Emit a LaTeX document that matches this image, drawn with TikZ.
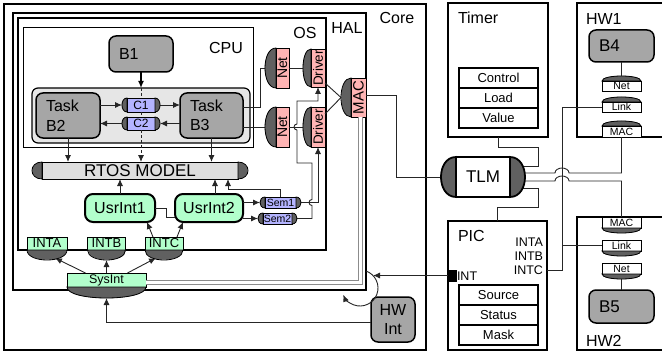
\documentclass[tikz,border=0pt]{standalone}
\usepackage{fontspec}
\setmainfont{Liberation Sans}
\usetikzlibrary{arrows.meta}
\definecolor{boxgray}{RGB}{166,166,166}
\definecolor{capgray}{RGB}{96,96,96}
\definecolor{grpgray}{RGB}{230,230,230}
\definecolor{rtosgray}{RGB}{222,222,222}
\definecolor{netpink}{RGB}{255,180,180}
\definecolor{chanblue}{RGB}{180,180,255}
\definecolor{intgreen}{RGB}{178,255,204}
\begin{document}
\begin{tikzpicture}[x=1pt,y=-1pt,
  every node/.style={inner sep=0pt,outer sep=0pt},
  lbl/.style={font=\fontsize{16}{19.5}\selectfont},
  frm/.style={draw,line width=#1},
  blk/.style={draw,fill=boxgray,rounded corners=7pt,line width=1.5pt,lbl,inner xsep=10pt,align=left,text width=#1},
  usr/.style={draw,fill=intgreen,rounded corners=8pt,line width=2pt,lbl},
  port/.style={draw,fill=#1,line width=0.8pt},
  capfill/.style={draw,fill=capgray,line width=0.8pt},
  reg/.style={draw,line width=1.1pt,minimum width=79pt,minimum height=20pt,font=\fontsize{13}{15}\selectfont},
  arr/.style={-{Latex[length=7pt,width=6pt]}},
  wire/.style={line width=0.9pt,black!85},
  bus/.style={draw=black!45,line width=0.8pt,double=white,double distance=3.2pt}]
\useasboundingbox (0,0) rectangle (662,353);

\node[frm=2pt,minimum width=422pt,minimum height=346pt] (core) at (215,177) {};
\node[frm=2.5pt,minimum width=353pt,minimum height=277pt] (hal) at (189.5,151.5) {};
\node[frm=2.5pt,minimum width=308pt,minimum height=232pt] (os) at (172,134) {};
\node[frm=1pt,minimum width=230pt,minimum height=119pt] (cpu) at (138,87.5) {};
\node[lbl] (corelbl) at (397,18) {Core};
\node[lbl] (hallbl) at (347,28) {HAL};
\node[lbl] (oslbl) at (305,33) {OS};
\node[lbl] (cpulbl) at (226,48) {CPU};

\node[draw,fill=grpgray,rounded corners=6pt,line width=1.2pt,minimum width=218pt,minimum height=55pt] (grp) at (141,115.5) {};
\node[blk=44pt,minimum height=36pt] (b1) at (141,54) {B1};
\node[blk=44pt,minimum height=45pt] (b2) at (68,115.5) {Task\\B2};
\node[blk=43pt,minimum height=45pt] (b3) at (211.5,115.5) {Task\\B3};
\node[port=chanblue,minimum width=28pt,minimum height=14pt,font=\fontsize{12}{14}\selectfont] (c1) at (141,105) {C1};
\node[port=chanblue,minimum width=28pt,minimum height=13pt,font=\fontsize{12}{14}\selectfont] (c2) at (141,123.5) {C2};
\node[draw,fill=rtosgray,line width=1pt,minimum width=196pt,minimum height=17pt,font=\fontsize{17}{20}\selectfont] (rtos) at (140,170.5) {RTOS MODEL};

\node[port=netpink,minimum width=13pt,minimum height=40pt,font=\fontsize{14}{16}\selectfont] (net1) at (282.5,68) {\rotatebox{90}{Net}};
\node[port=netpink,minimum width=13pt,minimum height=40pt,font=\fontsize{14}{16}\selectfont] (net2) at (282.5,127) {\rotatebox{90}{Net}};
\node[port=netpink,minimum width=14pt,minimum height=38pt,font=\fontsize{13.5}{16}\selectfont] (drv1) at (318,68) {\rotatebox{90}{Driver}};
\node[port=netpink,minimum width=14pt,minimum height=40pt,font=\fontsize{13.5}{16}\selectfont] (drv2) at (318,127) {\rotatebox{90}{Driver}};
\node[port=netpink,minimum width=15pt,minimum height=39pt,font=\fontsize{15}{17}\selectfont] (mac) at (358.5,97.5) {\rotatebox{90}{MAC}};

\node[usr,minimum width=70pt,minimum height=28pt] (usr1) at (120,208) {UsrInt1};
\node[usr,minimum width=68pt,minimum height=28pt] (usr2) at (209,208) {UsrInt2};
\node[port=chanblue,minimum width=31pt,minimum height=11pt,font=\fontsize{10.5}{12}\selectfont] (sem1) at (280.5,202.5) {Sem1};
\node[port=chanblue,minimum width=29pt,minimum height=11pt,font=\fontsize{10.5}{12}\selectfont] (sem2) at (277.5,218.5) {Sem2};
\node[port=intgreen,minimum width=40pt,minimum height=13pt,font=\fontsize{13}{15}\selectfont] (inta) at (47,243.5) {INTA};
\node[port=intgreen,minimum width=38pt,minimum height=13pt,font=\fontsize{13}{15}\selectfont] (intb) at (106.5,243.5) {INTB};
\node[port=intgreen,minimum width=38pt,minimum height=13pt,font=\fontsize{13}{15}\selectfont] (intc) at (164,243.5) {INTC};
\node[port=intgreen,minimum width=79pt,minimum height=14pt,font=\fontsize{12.5}{15}\selectfont] (sysint) at (106.5,280) {SysInt};
\node[draw,fill=boxgray,rounded corners=7pt,line width=1.5pt,lbl,align=center,minimum width=44pt,minimum height=45pt] (hwint) at (393,319.5) {HW\\Int};

\node[draw,fill=white,line width=1.8pt,minimum width=54pt,minimum height=40pt,font=\fontsize{17}{20}\selectfont] (tlm) at (483,177) {TLM};

\node[frm=2.5pt,minimum width=100pt,minimum height=134pt] (timer) at (498,70) {};
\node[lbl,anchor=west] (timerlbl) at (458,18) {Timer};
\node[reg] (ctrl) at (498.5,78) {Control};
\node[reg] (load) at (498.5,98) {Load};
\node[reg] (value) at (498.5,118) {Value};

\node[frm=2.5pt,minimum width=99pt,minimum height=129pt] (pic) at (497.5,285.5) {};
\node[lbl,anchor=west] (piclbl) at (458,236) {PIC};
\node[font=\fontsize{12.5}{14}\selectfont,anchor=east] (pinta) at (543,242) {INTA};
\node[font=\fontsize{12.5}{14}\selectfont,anchor=east] (pintb) at (543,256) {INTB};
\node[font=\fontsize{12.5}{14}\selectfont,anchor=east] (pintc) at (543,270) {INTC};
\node[draw,fill=black,minimum width=8pt,minimum height=11pt] (intport) at (452,275.5) {};
\node[font=\fontsize{12.5}{14}\selectfont,anchor=west] (intlbl) at (457,276) {INT};
\node[reg] (source) at (498.5,295) {Source};
\node[reg] (status) at (498.5,315) {Status};
\node[reg] (mask) at (498.5,335) {Mask};

\node[frm=2.5pt,minimum width=103pt,minimum height=134pt] (hw1) at (628.5,70) {};
\node[lbl,anchor=west] (hw1lbl) at (586,19) {HW1};
\node[blk=45pt,minimum height=32pt,font=\fontsize{17}{20}\selectfont] (b4) at (621.5,46) {B4};
\node[port=white,minimum width=39pt,minimum height=10pt,font=\fontsize{10.5}{12}\selectfont] (hw1net) at (621.5,86) {Net};
\node[port=white,minimum width=39pt,minimum height=10pt,font=\fontsize{10.5}{12}\selectfont] (hw1link) at (621.5,107) {Link};
\node[port=white,minimum width=39pt,minimum height=11pt,font=\fontsize{10.5}{12}\selectfont] (hw1mac) at (621.5,131.5) {MAC};

\node[frm=2.5pt,minimum width=103pt,minimum height=133pt] (hw2) at (628.5,283.5) {};
\node[lbl,anchor=west] (hw2lbl) at (586,341) {HW2};
\node[port=white,minimum width=39pt,minimum height=11pt,font=\fontsize{10.5}{12}\selectfont] (hw2mac) at (621.5,222.5) {MAC};
\node[port=white,minimum width=39pt,minimum height=11pt,font=\fontsize{10.5}{12}\selectfont] (hw2link) at (621.5,245.5) {Link};
\node[port=white,minimum width=39pt,minimum height=11pt,font=\fontsize{10.5}{12}\selectfont] (hw2net) at (621.5,268.5) {Net};
\node[blk=45pt,minimum height=33pt,font=\fontsize{17}{20}\selectfont] (b5) at (621.5,306.5) {B5};

\draw[arr,line width=1.5pt] (b1.south) -- (b1 |- grp.north);
\draw[wire,densely dashed] (b1 |- grp.north) -- (c1.north);
\draw[wire,densely dashed] (c1.south) -- (c2.north);
\draw[arr,wire,densely dashed] (c2.south) -- (c2.south |- rtos.north);
\draw[arr,wire] (b2.east |- c1) -- ([shift={(-5,0)}]c1.west);
\draw[arr,wire] ([shift={(5,0)}]c1.east) -- (b3.west |- c1);
\draw[arr,wire] (b3.west |- c2) -- ([shift={(5,0)}]c2.east);
\draw[arr,wire] ([shift={(-5,0)}]c2.west) -- (b2.east |- c2);
\draw[arr,wire] (b2.south) -- (b2.south |- rtos.north);
\draw[arr,wire] (b3.south) -- (b3.south |- rtos.north);

\draw[wire] (b3.east |- 0,107) -- (260,107) |- ([shift={(-11,0)}]net1.west);
\draw[wire] (b3.east |- net2) -- ([shift={(-11,0)}]net2.west);
\draw[wire] (net1.east) -- ([shift={(-8,0)}]drv1.west);
\draw[wire] (net2.east) -- ([shift={(-8,0)}]drv2.west);
\draw[wire] (drv1.east |- 0,83) -- ([shift={(-10,0)}]mac.west);
\draw[wire] (drv2.east |- 0,114) -- ([shift={(-10,0)}]mac.west);
\draw[wire] (mac.east |- 0,95) -- (396,95) |- ([shift={(-15,0)}]tlm.west);
\draw[bus] ([shift={(2,0)}]mac.south) |- ([shift={(0,2.5)}]sysint.east);

\draw[arr,wire] (usr1.north) -- (usr1.north |- rtos.south);
\draw[arr,wire] ([shift={(6,0)}]usr2.north) -- ++(0,-15);
\draw[wire] (usr1.east) -- (166,208) |- ([shift={(0,9)}]usr2.west);
\draw[arr,wire] (usr2.east |- sem1) -- ([shift={(-5,0)}]sem1.west);
\draw[arr,wire] (usr2.east |- sem2) -- ([shift={(-5,0)}]sem2.west);
\draw[arr,wire] (sem1.north) |- (228,189) -- (228,189 |- rtos.south);
\draw[arr,wire] ([shift={(5,0)}]sem1.east) -| (drv2.south);
\draw[arr,wire] ([shift={(5,0)}]sem2.east) -- (312,218.5) -- (312,205.5) arc[start angle=90,end angle=270,radius=3] -- (312,163) -- (297,163) -- (297,130) arc[start angle=90,end angle=270,radius=3] -- (297,101) -| (drv1.south);

\draw[arr,wire] ([shift={(-21,0)}]sysint.north) -- ([shift={(8,8)}]inta.south);
\draw[arr,wire] (sysint.north) -- ([shift={(0,10)}]intb.south);
\draw[arr,wire] ([shift={(21,0)}]sysint.north) -- ([shift={(-8,8)}]intc.south);
\draw[arr,wire] ([shift={(-11,0)}]intc.north) -- ([shift={(-8,0)}]usr1.south east);
\draw[arr,wire] ([shift={(13,0)}]intc.north) -- ([shift={(8,0)}]usr2.south west);
\draw[arr,wire] (hwint.west |- 0,322) -| ([shift={(0,11)}]sysint.south);
\draw[arr,wire] (intport.west) -- (373,275.5);
\draw[arr,wire] (360,288) ++(-70:18) arc[start angle=-70,end angle=158,radius=18];

\draw[wire] (timer.south) -- ++(0,10) -| (538,166) -- ([shift={(12.5,-11)}]tlm.east);
\draw[wire] (pic.north) -- ++(0,-14) -| (538,188) -- ([shift={(12.5,11)}]tlm.east);
\draw[wire] ([shift={(14.7,-4)}]tlm.east) -- (555,173) arc[start angle=180,end angle=360,x radius=7,y radius=5] -- (hw1mac.south |- 0,173) -- (hw1mac.south);
\draw[wire] ([shift={(14.7,4)}]tlm.east) -- (555,181) arc[start angle=180,end angle=360,x radius=7,y radius=5] -- (hw2mac.north |- 0,181) -- (hw2mac.north);
\draw[wire] (hw1link.west) -| (562,270) -- (pic.east |- pintc);
\draw[wire] (hw2link.west) -- (hw2link.west -| 562,0);
\draw[wire] (b4.south) -- ([shift={(0,-5)}]hw1net.north);
\draw[wire] ([shift={(0,5)}]hw2net.south) -- (b5.north);

\foreach \n/\d in {net1/11,net2/11,drv1/8,drv2/8,mac/10,c1/5,c2/5,sem1/5,sem2/5,rtos/10}
  \filldraw[capfill] (\n.north west) .. controls +(-4*\d/3,0) and +(-4*\d/3,0) .. (\n.south west) -- cycle;
\foreach \n/\d in {c1/5,c2/5,sem1/5,sem2/5,rtos/10}
  \filldraw[capfill] (\n.north east) .. controls +(4*\d/3,0) and +(4*\d/3,0) .. (\n.south east) -- cycle;
\foreach \n/\d in {inta/10,intb/10,intc/10,sysint/11,hw2mac/5,hw2link/5,hw2net/5}
  \filldraw[capfill] (\n.south west) .. controls +(0,4*\d/3) and +(0,4*\d/3) .. (\n.south east) -- cycle;
\foreach \n/\d in {hw1net/5,hw1link/5,hw1mac/5}
  \filldraw[capfill] (\n.north west) .. controls +(0,-4*\d/3) and +(0,-4*\d/3) .. (\n.north east) -- cycle;
\filldraw[capfill,line width=1.8pt] (tlm.north west) .. controls +(-20,0) and +(-20,0) .. (tlm.south west) -- cycle;
\filldraw[capfill,line width=1.8pt] (tlm.north east) .. controls +(20,0) and +(20,0) .. (tlm.south east) -- cycle;
\end{tikzpicture}
\end{document}
